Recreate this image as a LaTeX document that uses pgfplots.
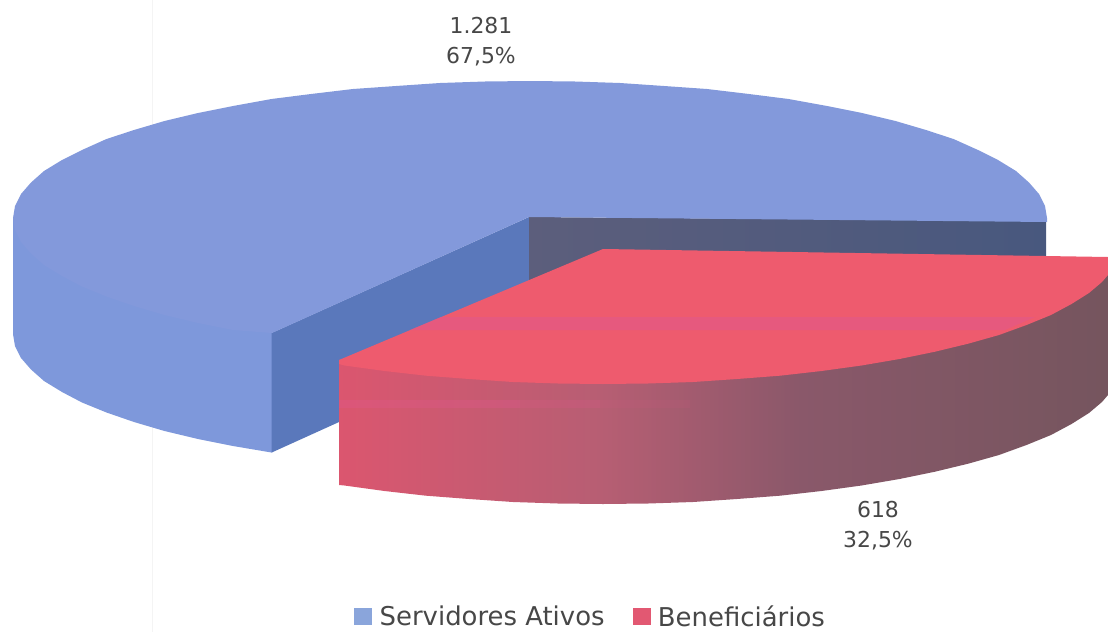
\documentclass[border=0pt]{standalone}
\usepackage{fontspec}
\setmainfont{DejaVu Sans}
\usepackage{pgfplots}
\pgfplotsset{compat=1.18}
\definecolor{rs1}{HTML}{DB566F}
\definecolor{rs2}{HTML}{B75E73}
\definecolor{rs3}{HTML}{8A586A}
\definecolor{rs4}{HTML}{75555E}
\pgfdeclarehorizontalshading{redside}{100bp}{color(0bp)=(rs1); color(25bp)=(rs1); color(42bp)=(rs2); color(55bp)=(rs3); color(75bp)=(rs4); color(100bp)=(rs4)}
\definecolor{bluetop}{HTML}{8399DB}
\definecolor{blueside}{HTML}{7E98DB}
\definecolor{bluecut}{HTML}{5A78BB}
\definecolor{darkL}{HTML}{5C5E7C}
\definecolor{darkR}{HTML}{48587E}
\definecolor{redtop}{HTML}{EE5B6E}
\definecolor{redband}{HTML}{E0588C}
\definecolor{legblue}{HTML}{8AA5DB}
\definecolor{legred}{HTML}{E25872}
\begin{document}
\begin{tikzpicture}
\begin{axis}[
  scale only axis, width=1108bp, height=632bp,
  xmin=0, xmax=1108, ymin=0, ymax=632, y dir=reverse,
  hide axis, clip=true,
  legend columns=2,
  legend cell align=left,
  legend style={draw=none, fill=none, at={(0.533,0.004)}, anchor=south, inner sep=0pt, outer sep=0pt,
     text=black!72,
     font=\fontsize{26}{26}\selectfont, row sep=0pt,
     /tikz/every odd column/.append style={column sep=6bp},
     /tikz/every even column/.append style={column sep=26bp}},
]
% paper crease
\addplot[forget plot, draw={rgb,255:red,244;green,244;blue,244}, line width=1bp] coordinates {(152,0) (152,632)};
% blue side
\addplot[forget plot, draw=none, fill=blueside] coordinates {
(13,218)(13,334)(15,346)(21,358)(31,369.5)(44,381)(62,392)(82,402.5)(106.5,412.5)(134,422)(164.5,431)(198,439)(233,446)(272,452.6)(272,333)} -- cycle;
% blue cut face
\addplot[forget plot, draw=none, fill=bluecut] coordinates {(271.5,333)(529,217)(529,336)(271.5,452.6)} -- cycle;
% dark face
\addplot[forget plot, draw=none, left color=darkL, right color=darkR] coordinates {(529,217)(1046,221)(1046,262)(529,300)} -- cycle;
% blue top
\addplot[forget plot, draw=none, fill=bluetop] coordinates {
(1047,222)(1047,218)(1045,206)(1039,194)(1029,182.5)(1016,171)(998,160)(978,150)(953.5,139)(926,130)(895.5,121)(862,113)(827,106)(788.5,99)(749,94)(707,89)(664,86)(620,83)(575,81.5)(530,81)(485,81.5)(440,83)(396,86)(353,89)(311,94)(271.5,99)(233,106)(198,113)(164.5,121)(134,130)(106.5,139)(82,150)(62,160)(44,171)(31,182.5)(21,194)(15,206)(13,218)
(15,230)(21,242)(31,253.5)(44,265)(62,276)(82,286.5)(106.5,296.5)(134,306)(164.5,315)(198,323)(233,330)(272,333)(529,217)} -- cycle;
% red side
\addplot[forget plot, draw=none, shading=redside] coordinates {
(1108,260)(1108,395)(1102,402)(1089,413)(1071.5,424)(1051,435)(1026.5,445)(999,455)(968.5,463.6)(935,471.7)(899.5,479)(861.5,485.5)(821.5,491)(780,495.7)(737,499)(693,502)(648,503.5)(603,504)(558,503.5)(513,502)(469,499)(426,495.7)(384.5,491)(344.5,485.5)(339,485)(339,360)} -- cycle;
% band on red side, fading to the right
\addplot[forget plot, draw=none, fill=redband, fill opacity=0.35] coordinates {(339,400)(520,400)(520,408)(339,408)} -- cycle;
\addplot[forget plot, draw=none, fill=redband, fill opacity=0.22] coordinates {(520,400)(600,400)(600,408)(520,408)} -- cycle;
\addplot[forget plot, draw=none, fill=redband, fill opacity=0.10] coordinates {(600,400)(690,400)(690,408)(600,408)} -- cycle;
% red top
\addplot[forget plot, draw=none, fill=redtop] coordinates {
(603,249)(1108,257)(1108,275)(1102,282)(1089,293)(1071.5,304)(1051,315)(1026.5,325)(999,335)(968.5,343.6)(935,351.7)(899.5,359)(861.5,365.5)(821.5,371)(780,375.7)(737,379)(693,382)(648,383.5)(603,384)(558,383.5)(513,382)(469,379)(426,375.7)(384.5,371)(344.5,365.5)(339,364)(339,360)} -- cycle;
% band on red top
\addplot[forget plot, draw=none, fill=redband, fill opacity=0.55] coordinates {(441,317)(1035,317)(1005,330)(410,330)} -- cycle;
% legend
\addlegendimage{legend image code/.code={\fill[legblue] (0bp,-8bp) rectangle (17bp,8bp);}}
\addlegendentry{Servidores Ativos}
\addlegendimage{legend image code/.code={\fill[legred] (0bp,-8bp) rectangle (17bp,8bp);}}
\addlegendentry{Beneficiários}
% labels
\node[font=\fontsize{22}{22}\selectfont, text=black!72] at (axis cs:481,26) {1.281};
\node[font=\fontsize{22}{22}\selectfont, text=black!72] at (axis cs:481,57) {67,5\%};
\node[font=\fontsize{22}{22}\selectfont, text=black!72] at (axis cs:878,510) {618};
\node[font=\fontsize{22}{22}\selectfont, text=black!72] at (axis cs:878,541) {32,5\%};
\end{axis}
\pgfresetboundingbox
\useasboundingbox (current axis.south west) rectangle (current axis.north east);
\end{tikzpicture}
\end{document}
